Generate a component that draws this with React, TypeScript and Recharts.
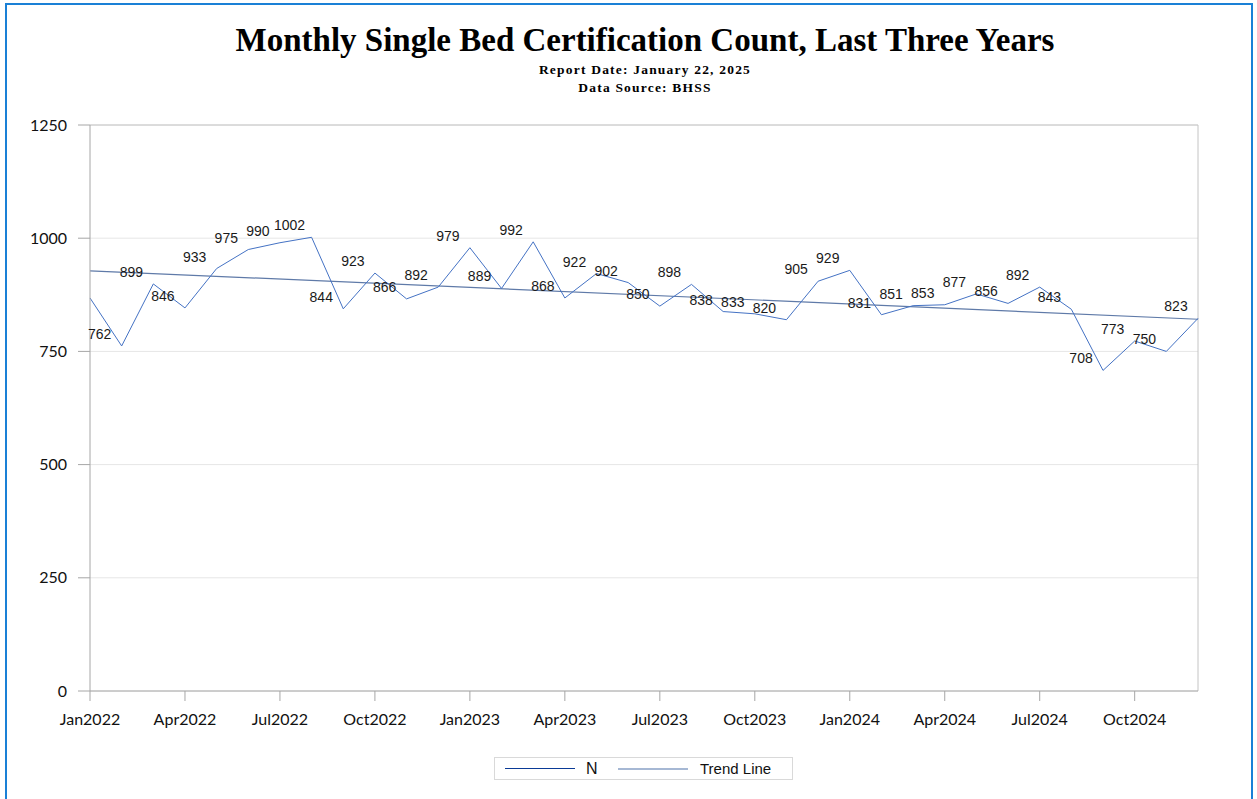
import React from 'react'
import {
  LineChart,
  Line,
  XAxis,
  YAxis,
  CartesianGrid,
  ReferenceLine,
  LabelList
} from 'recharts'

// month labels, Jan2022 .. Dec2024
const months = [
  'Jan2022', 'Feb2022', 'Mar2022', 'Apr2022', 'May2022', 'Jun2022',
  'Jul2022', 'Aug2022', 'Sep2022', 'Oct2022', 'Nov2022', 'Dec2022',
  'Jan2023', 'Feb2023', 'Mar2023', 'Apr2023', 'May2023', 'Jun2023',
  'Jul2023', 'Aug2023', 'Sep2023', 'Oct2023', 'Nov2023', 'Dec2023',
  'Jan2024', 'Feb2024', 'Mar2024', 'Apr2024', 'May2024', 'Jun2024',
  'Jul2024', 'Aug2024', 'Sep2024', 'Oct2024', 'Nov2024', 'Dec2024'
]

const counts = [
  868, 762, 899, 846, 933, 975, 990, 1002, 844, 923, 866, 892,
  979, 889, 992, 868, 922, 902, 850, 898, 838, 833, 820, 905,
  929, 831, 851, 853, 877, 856, 892, 843, 708, 773, 750, 823
]

// trend line start / end values
const trendEnds = [928, 821]

const yTicks = [0, 250, 500, 750, 1000, 1250]
const xTicks = [0, 3, 6, 9, 12, 15, 18, 21, 24, 27, 30, 33]

const data = months.map((m, i) => ({
  idx: i,
  month: m,
  n: counts[i],
  trend: i === 0 ? trendEnds[0] : i === months.length - 1 ? trendEnds[1] : null
}))

const DataLabel = (props: any) => {
  const { x, y, value, index } = props
  if (index === 0) return null
  return (
    <text
      x={x - 22}
      y={y - 12}
      textAnchor='middle'
      dominantBaseline='central'
      fontFamily='Liberation Sans, Arial, sans-serif'
      fontSize={14}
      fill='#1a1a1a'
    >
      {value}
    </text>
  )
}

const LegendBox = () => (
  <div
    style={{
      position: 'absolute',
      left: 494,
      top: 757,
      width: 299,
      height: 23,
      boxSizing: 'border-box',
      border: '1px solid #d9d9d9',
      background: '#fff',
      fontFamily: 'Liberation Sans, Arial, sans-serif',
      fontSize: 16,
      color: '#111'
    }}
  >
    <div style={{ position: 'absolute', left: 10, top: 10, width: 70, borderTop: '1.5px solid #0a3a96' }} />
    <div style={{ position: 'absolute', left: 91, top: 1, lineHeight: '19px' }}>N</div>
    <div style={{ position: 'absolute', left: 123, top: 10, width: 70, borderTop: '2px solid #a6b8d4' }} />
    <div style={{ position: 'absolute', left: 205, top: 1, lineHeight: '19px', fontSize: 15 }}>Trend Line</div>
  </div>
)

export default function App() {
  return (
    <div
      style={{
        position: 'absolute',
        left: 0,
        top: 0,
        width: 1257,
        height: 799,
        background: '#fff',
        overflow: 'hidden'
      }}
    >
      <div
        style={{
          position: 'absolute',
          left: 5,
          top: 3,
          width: 1248,
          height: 820,
          border: '2px solid #1a80d6',
          boxSizing: 'border-box'
        }}
      />
      <div
        style={{
          position: 'absolute',
          left: 0,
          width: 1290,
          top: 20,
          textAlign: 'center',
          fontFamily: 'Liberation Serif, Times New Roman, serif',
          fontWeight: 'bold',
          color: '#000'
        }}
      >
        <div style={{ fontSize: 33, lineHeight: '40px' }}>
          Monthly Single Bed Certification Count, Last Three Years
        </div>
        <div style={{ fontSize: 13.5, lineHeight: '18px', marginTop: 1, letterSpacing: 1.2 }}>
          Report Date: January 22, 2025
        </div>
        <div style={{ fontSize: 13.5, lineHeight: '18px', letterSpacing: 1.2 }}>
          Data Source: BHSS
        </div>
      </div>
      <div style={{ position: 'absolute', left: 0, top: 0 }}>
        <LineChart
          width={1257}
          height={799}
          data={data}
          margin={{ top: 125, right: 59, left: 30, bottom: 68 }}
        >
          <CartesianGrid vertical={false} stroke='#e6e6e6' />
          <ReferenceLine y={1250} stroke='#c4c4c4' />
          <ReferenceLine x={35} stroke='#c4c4c4' />
          <XAxis
            type='number'
            dataKey='idx'
            domain={[0, 35]}
            ticks={xTicks}
            tickFormatter={(i: number) => months[i]}
            interval={0}
            height={40}
            stroke='#a6a6a6'
            tickSize={10}
            tickMargin={13}
            tick={{ fill: '#111', fontSize: 16, fontFamily: 'Lato, sans-serif' }}
          />
          <YAxis
            domain={[0, 1250]}
            ticks={yTicks}
            width={60}
            stroke='#a6a6a6'
            tickSize={12}
            tickMargin={11}
            tick={{ fill: '#111', fontSize: 16, fontFamily: 'Lato, sans-serif' }}
          />
          <Line
            dataKey='trend'
            stroke='#5f7aa8'
            strokeWidth={1.2}
            dot={false}
            connectNulls
            isAnimationActive={false}
          />
          <Line
            dataKey='n'
            stroke='#4472c4'
            strokeWidth={1}
            dot={false}
            isAnimationActive={false}
          >
            <LabelList dataKey='n' content={DataLabel} />
          </Line>
        </LineChart>
      </div>
      <LegendBox />
    </div>
  )
}
